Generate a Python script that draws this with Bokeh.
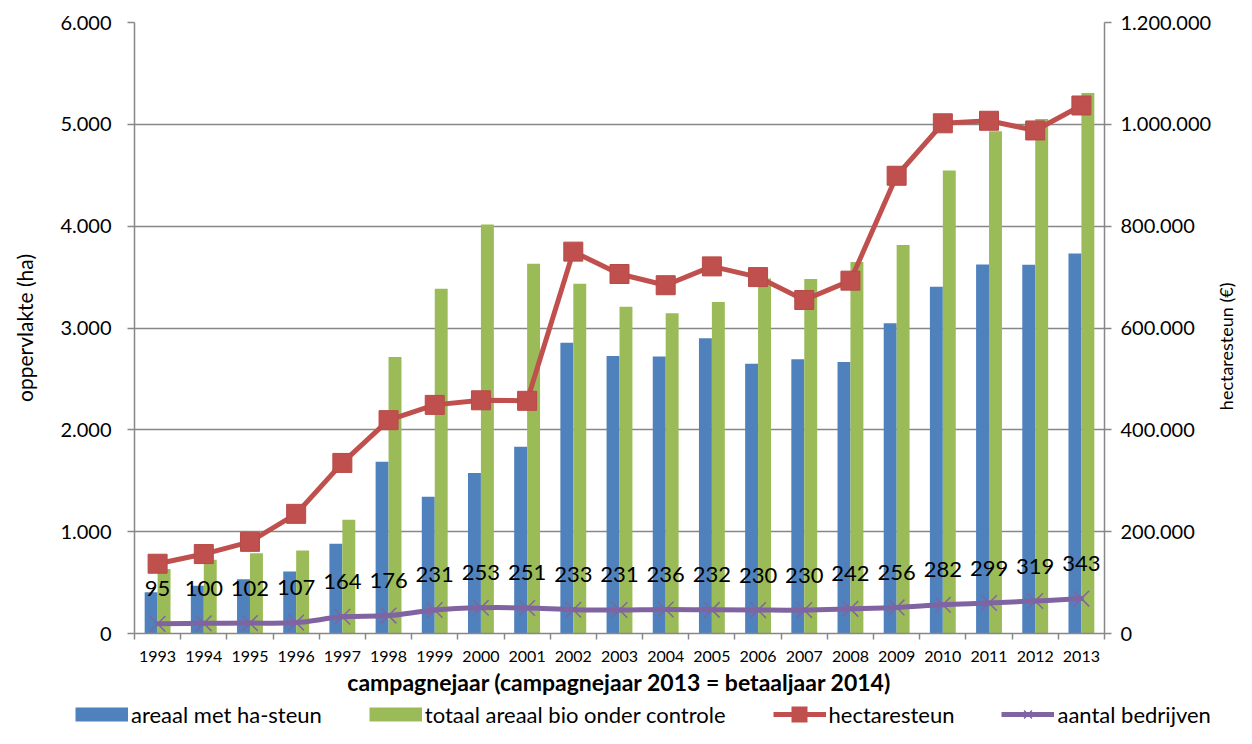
import math
import numpy as np
from bokeh.plotting import figure
from bokeh.layouts import column, row
from bokeh.models import (Range1d, LinearAxis, FixedTicker, Legend, LegendItem,
                          ColumnDataSource, BasicTickFormatter)
from bokeh.transform import dodge
from bokeh.core.properties import value
from bokeh.embed import file_html
from bokeh.resources import INLINE

# ---------------- data ----------------
years = list(range(1993, 2014))
areaal_ha_steun = [405, 470, 532, 608, 882, 1686, 1343, 1575, 1833, 2856, 2725,
                   2719, 2899, 2650, 2693, 2667, 3046, 3405, 3624, 3621, 3732]
totaal_areaal_bio = [634, 725, 788, 814, 1118, 2716, 3386, 4016, 3631, 3435, 3209,
                     3144, 3255, 3487, 3480, 3647, 3814, 4546, 4931, 5052, 5307]
hectaresteun = [137000, 156000, 180000, 235000, 335000, 419000, 449000, 458000,
                457000, 750000, 706000, 684000, 721000, 700000, 655000, 693000,
                899000, 1002000, 1007000, 988000, 1037000]
aantal_bedrijven = [95, 100, 102, 107, 164, 176, 231, 253, 251, 233, 231, 236,
                    232, 230, 230, 242, 256, 282, 299, 319, 343]

left_ticks = [0, 1000, 2000, 3000, 4000, 5000, 6000]
left_tick_labels = ["0", "1.000", "2.000", "3.000", "4.000", "5.000", "6.000"]
right_ticks = [0, 200000, 400000, 600000, 800000, 1000000, 1200000]
right_tick_labels = ["0", "200.000", "400.000", "600.000", "800.000",
                     "1.000.000", "1.200.000"]

series_names = ["areaal met ha-steun", "totaal areaal bio onder controle",
                "hectaresteun", "aantal bedrijven"]
x_title = "campagnejaar (campagnejaar 2013 = betaaljaar 2014)"
y_title = "oppervlakte (ha)"
y2_title = "hectaresteun (€)"

# ---------------- style ----------------
BLUE = "#4F81BD"
GREEN = "#9BBB59"
RED = "#C0504D"
PURPLE = "#8064A2"
GRAY = "#878787"
FONT = "Lato"

TOTAL_W = 1236
MAIN_W = 1214
MAIN_H = 700
LEG_H = 28

src = ColumnDataSource(dict(year=years, a=areaal_ha_steun, t=totaal_areaal_bio,
                            h=hectaresteun, b=aantal_bedrijven,
                            lbl=[str(v) for v in aantal_bedrijven]))

p = figure(width=MAIN_W, height=MAIN_H, output_backend="svg", toolbar_location=None,
           x_range=Range1d(years[0] - 0.5, years[-1] + 0.5),
           y_range=Range1d(left_ticks[0], left_ticks[-1]),
           min_border_left=134, min_border_right=MAIN_W - 1107, min_border_top=22,
           min_border_bottom=MAIN_H - 633)
p.outline_line_color = None
p.background_fill_color = "white"
p.border_fill_color = "white"
p.extra_y_ranges = {"right": Range1d(right_ticks[0], right_ticks[-1])}

# x axis
xax = p.xaxis[0]
xax.ticker = FixedTicker(ticks=years, minor_ticks=[y - 0.5 for y in years] + [years[-1] + 0.5])
xax.formatter = BasicTickFormatter(use_scientific=False)
xax.major_tick_out = 0
xax.major_tick_in = 0
xax.minor_tick_out = 6
xax.minor_tick_in = 0
xax.minor_tick_line_color = GRAY
xax.minor_tick_line_width = 1.5
xax.axis_line_color = GRAY
xax.axis_line_width = 1.5
xax.major_label_text_font = FONT
xax.major_label_text_font_size = "16px"
xax.major_label_text_color = "black"
xax.major_label_standoff = 11
xax.axis_label = x_title
xax.axis_label_text_font = FONT
xax.axis_label_text_font_style = "bold"
xax.axis_label_text_font_size = "23px"
xax.axis_label_text_color = "black"
xax.axis_label_standoff = 3

# left axis
yax = p.yaxis[0]
yax.ticker = FixedTicker(ticks=left_ticks)
yax.major_label_overrides = dict(zip(left_ticks, left_tick_labels))
yax.major_tick_out = 7
yax.major_tick_in = 0
yax.minor_tick_out = 0
yax.minor_tick_in = 0
yax.major_tick_line_color = GRAY
yax.major_tick_line_width = 1.5
yax.axis_line_color = GRAY
yax.axis_line_width = 1.5
yax.major_label_text_font = FONT
yax.major_label_text_font_size = "20px"
yax.major_label_text_color = "black"
yax.major_label_standoff = 16
yax.axis_label = y_title
yax.axis_label_text_font = FONT
yax.axis_label_text_font_style = "normal"
yax.axis_label_text_font_size = "21px"
yax.axis_label_text_color = "black"
yax.axis_label_standoff = 20

# right axis (title drawn in a narrow side figure so it reads bottom-to-top)
rax = LinearAxis(y_range_name="right", ticker=FixedTicker(ticks=right_ticks))
rax.major_label_overrides = dict(zip(right_ticks, right_tick_labels))
rax.major_tick_out = 7
rax.major_tick_in = 0
rax.minor_tick_out = 0
rax.minor_tick_in = 0
rax.major_tick_line_color = GRAY
rax.major_tick_line_width = 1.5
rax.axis_line_color = GRAY
rax.axis_line_width = 1.5
rax.major_label_text_font = FONT
rax.major_label_text_font_size = "20px"
rax.major_label_text_color = "black"
rax.major_label_standoff = 9
p.add_layout(rax, "right")

# grid
p.xgrid.visible = False
p.ygrid.ticker = FixedTicker(ticks=left_ticks)
p.ygrid.grid_line_color = GRAY
p.ygrid.grid_line_width = 1.5

# bars
bw = 0.28
p.vbar(x=dodge("year", -bw / 2, range=p.x_range), top="a", width=bw, bottom=0,
       source=src, fill_color=BLUE, line_color=None)
p.vbar(x=dodge("year", bw / 2, range=p.x_range), top="t", width=bw, bottom=0,
       source=src, fill_color=GREEN, line_color=None)

# hectaresteun line (right axis)
p.line(x="year", y="h", source=src, y_range_name="right", line_color=RED,
       line_width=5)
p.scatter(x="year", y="h", source=src, y_range_name="right", marker="square",
          size=19, fill_color=RED, line_color="#B74A47", line_width=1)

# aantal bedrijven: smoothed line (left axis)
xs = np.array(years, dtype=float)
ys = np.array(aantal_bedrijven, dtype=float)
xp = np.concatenate([[xs[0]], xs, [xs[-1]]])
yp = np.concatenate([[ys[0]], ys, [ys[-1]]])
n = len(xs)
cx0 = xs[:-1] + (xp[2:n + 1] - xp[0:n - 1]) / 6.0
cy0 = ys[:-1] + (yp[2:n + 1] - yp[0:n - 1]) / 6.0
cx1 = xs[1:] - (xp[3:n + 2] - xp[1:n]) / 6.0
cy1 = ys[1:] - (yp[3:n + 2] - yp[1:n]) / 6.0
p.bezier(x0=xs[:-1], y0=ys[:-1], x1=xs[1:], y1=ys[1:], cx0=cx0, cy0=cy0,
         cx1=cx1, cy1=cy1, line_color=PURPLE, line_width=5, line_cap="round")
p.scatter(x="year", y="b", source=src, marker="x", size=22, line_color=PURPLE,
          line_width=1.5)

# data labels
p.text(x="year", y="b", text="lbl", source=src, text_font=value(FONT),
       text_font_size="22px", text_align="center", text_baseline="alphabetic",
       y_offset=-35, text_color="black")

# ---------------- right-axis title (side figure) ----------------
side = figure(width=TOTAL_W - MAIN_W, height=MAIN_H, output_backend="svg",
              toolbar_location=None, x_range=Range1d(0, 1), y_range=Range1d(0, 1),
              x_axis_type=None, y_axis_type=None, min_border_left=0,
              min_border_right=0, min_border_top=22, min_border_bottom=MAIN_H - 633)
side.outline_line_color = None
side.xgrid.visible = False
side.ygrid.visible = False
side.text(x=[0.5], y=[0.47], text=[y2_title], angle=math.pi / 2,
          text_align="center", text_baseline="middle", text_font=value(FONT),
          text_font_size="18px", text_color="black")

# ---------------- legend (separate strip) ----------------
# proxies use the real series but lie outside this strip's view; only the legend shows
lf = figure(width=TOTAL_W, height=LEG_H, output_backend="svg", toolbar_location=None,
            x_range=Range1d(0, 1), y_range=Range1d(0, 1),
            x_axis_type=None, y_axis_type=None, min_border=0)
lf.outline_line_color = None
lf.xgrid.visible = False
lf.ygrid.visible = False
leg_blue = lf.line(x="year", y="a", source=src, line_color=BLUE, line_width=14)
leg_green = lf.line(x="year", y="t", source=src, line_color=GREEN, line_width=14)
leg_red_l = lf.line(x="year", y="h", source=src, line_color=RED, line_width=5)
leg_red_m = lf.line(x="year", y="h", source=src, line_color=RED, line_width=16,
                    line_dash="0 18 16 100")
leg_pur_l = lf.line(x="year", y="b", source=src, line_color=PURPLE, line_width=5)
leg_pur_m = lf.scatter(x="year", y="b", source=src, marker="x", line_color=PURPLE,
                       line_width=1.5)

legend = Legend(items=[
    LegendItem(label=series_names[0], renderers=[leg_blue]),
    LegendItem(label=series_names[1], renderers=[leg_green]),
    LegendItem(label=series_names[2], renderers=[leg_red_l, leg_red_m]),
    LegendItem(label=series_names[3], renderers=[leg_pur_l, leg_pur_m]),
], orientation="horizontal", location=(75, 0), glyph_width=53,
    glyph_height=LEG_H, label_standoff=3, spacing=47, padding=0, margin=0,
    border_line_color=None, background_fill_alpha=0,
    label_text_font=FONT, label_text_font_size="22px", label_text_color="black")
lf.add_layout(legend, "center")

layout = column(row(p, side), lf)
open("out.html", "w").write(file_html(layout, INLINE))
